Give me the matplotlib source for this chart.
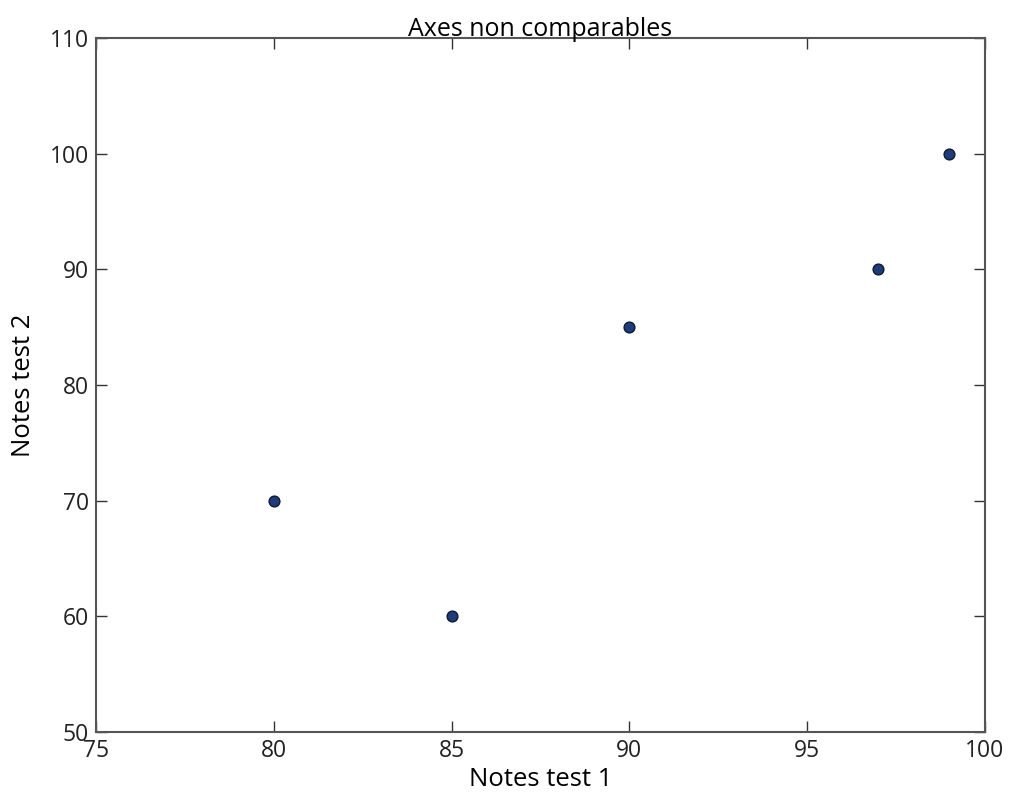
import matplotlib
matplotlib.use("Agg")
import matplotlib.pyplot as plt

notes_test1 = [80, 85, 90, 97, 99]
notes_test2 = [70, 60, 85, 90, 100]

plt.rcParams['font.family'] = ['Open Sans', 'DejaVu Sans']

fig = plt.figure(figsize=(10.11, 7.95), dpi=100)
ax = fig.add_axes([96/1011, 1-732/795, (985-96)/1011, (732-38)/795])
ax.scatter(notes_test1, notes_test2, s=60, c='#1f3c78', edgecolors='#0d1a33', linewidths=1.0, zorder=3)
ax.set_xlim(75, 100)
ax.set_ylim(50, 110)
ax.set_xticks([75, 80, 85, 90, 95, 100])
ax.set_yticks([50, 60, 70, 80, 90, 100, 110])
ax.tick_params(direction='in', length=8, width=1, top=True, right=True, labelsize=16.5, pad=5, colors='#333333')
ax.tick_params(labelcolor='#222222')
for sp in ax.spines.values():
    sp.set_linewidth(1.5)
    sp.set_color('#555555')
ax.set_title("Axes non comparables", fontsize=18, pad=1.5)
ax.set_xlabel("Notes test 1", fontsize=18.5, labelpad=3)
ax.set_ylabel("Notes test 2", fontsize=18.5, labelpad=10)
fig.savefig("out.png", dpi=100)
